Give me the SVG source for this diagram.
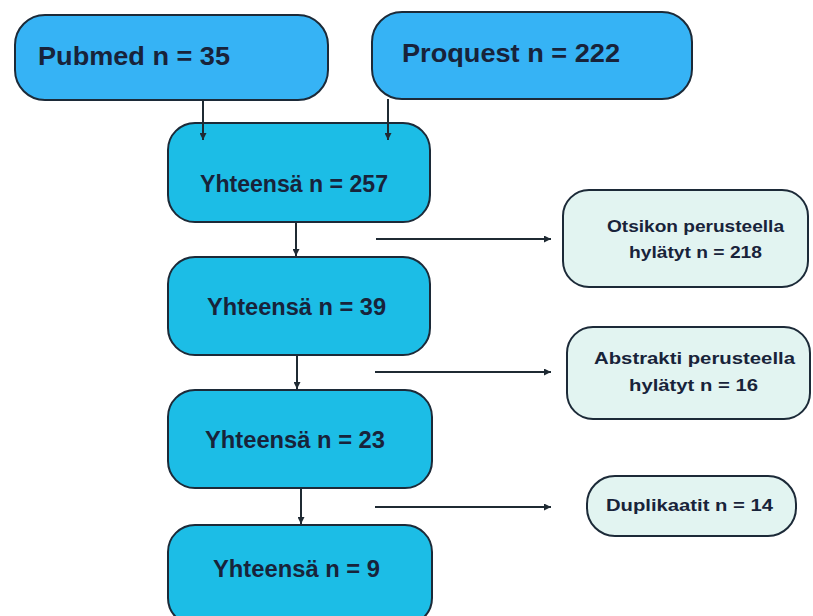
<svg xmlns="http://www.w3.org/2000/svg" width="813" height="616" viewBox="0 0 813 616">
  <defs>
    <marker id="ah" viewBox="0 0 10 10" refX="10" refY="5" markerWidth="7" markerHeight="7" markerUnits="userSpaceOnUse" orient="auto">
      <path d="M0,0 L10,5 L0,10 z" fill="#1f2a33"/>
    </marker>
    <style>
      .src { fill: #36b3f5; stroke: #1c2a38; stroke-width: 2; }
      .tot { fill: #1cbde6; stroke: #1c2a38; stroke-width: 2; }
      .exc { fill: #e2f4f1; stroke: #1c2a38; stroke-width: 2; }
      .big { font-family: "Liberation Sans", Arial, sans-serif; font-weight: bold; font-size: 25px; fill: #18233a; }
      .mid { font-family: "Liberation Sans", Arial, sans-serif; font-weight: bold; font-size: 23px; fill: #18233a; }
      .sm { font-family: "Liberation Sans", Arial, sans-serif; font-weight: bold; font-size: 17px; fill: #18233a; }
      .conn { stroke: #1f2a33; stroke-width: 2; fill: none; marker-end: url(#ah); }
    </style>
  </defs>
  <rect width="813" height="616" fill="#ffffff"/>

  <g id="pubmed">
    <rect class="src" x="15" y="15" width="313" height="85" rx="30" ry="30"/>
    <text class="big" x="38" y="65" textLength="192" lengthAdjust="spacingAndGlyphs">Pubmed n = 35</text>
  </g>
  <g id="proquest">
    <rect class="src" x="372" y="12" width="320" height="87" rx="30" ry="30"/>
    <text class="big" x="402" y="62" textLength="218" lengthAdjust="spacingAndGlyphs">Proquest n = 222</text>
  </g>
  <g id="total257">
    <rect class="tot" x="168" y="123" width="262" height="99" rx="27" ry="27"/>
    <text class="mid" x="200" y="192" textLength="188" lengthAdjust="spacingAndGlyphs">Yhteensä n = 257</text>
  </g>
  <g id="total39">
    <rect class="tot" x="168" y="257" width="262" height="98" rx="27" ry="27"/>
    <text class="mid" x="207" y="315" textLength="179" lengthAdjust="spacingAndGlyphs">Yhteensä n = 39</text>
  </g>
  <g id="total23">
    <rect class="tot" x="168" y="390" width="264" height="98" rx="27" ry="27"/>
    <text class="mid" x="205" y="448" textLength="180" lengthAdjust="spacingAndGlyphs">Yhteensä n = 23</text>
  </g>
  <g id="total9">
    <rect class="tot" x="168" y="525" width="264" height="100" rx="27" ry="27"/>
    <text class="mid" x="213" y="577" textLength="167" lengthAdjust="spacingAndGlyphs">Yhteensä n = 9</text>
  </g>
  <g id="excl-title">
    <rect class="exc" x="563" y="190" width="245" height="97" rx="26" ry="26"/>
    <text class="sm" x="607" y="232" textLength="177" lengthAdjust="spacingAndGlyphs">Otsikon perusteella</text>
    <text class="sm" x="629" y="258" textLength="133" lengthAdjust="spacingAndGlyphs">hylätyt n = 218</text>
  </g>
  <g id="excl-abstract">
    <rect class="exc" x="567" y="327" width="243" height="92" rx="26" ry="26"/>
    <text class="sm" x="594" y="364" textLength="201" lengthAdjust="spacingAndGlyphs">Abstrakti perusteella</text>
    <text class="sm" x="629" y="391" textLength="129" lengthAdjust="spacingAndGlyphs">hylätyt n = 16</text>
  </g>
  <g id="duplicates">
    <rect class="exc" x="587" y="476" width="209" height="60" rx="28" ry="28"/>
    <text class="sm" x="606" y="511" textLength="167" lengthAdjust="spacingAndGlyphs">Duplikaatit n = 14</text>
  </g>

  <g id="connectors">
    <line class="conn" x1="203" y1="100" x2="203" y2="140"/>
    <line class="conn" x1="388" y1="99" x2="388" y2="140"/>
    <line class="conn" x1="296" y1="223" x2="296" y2="256"/>
    <line class="conn" x1="297" y1="356" x2="297" y2="389"/>
    <line class="conn" x1="301" y1="489" x2="301" y2="524"/>
    <line class="conn" x1="376" y1="239" x2="551" y2="239"/>
    <line class="conn" x1="375" y1="372" x2="551" y2="372"/>
    <line class="conn" x1="375" y1="507" x2="551" y2="507"/>
  </g>
</svg>
